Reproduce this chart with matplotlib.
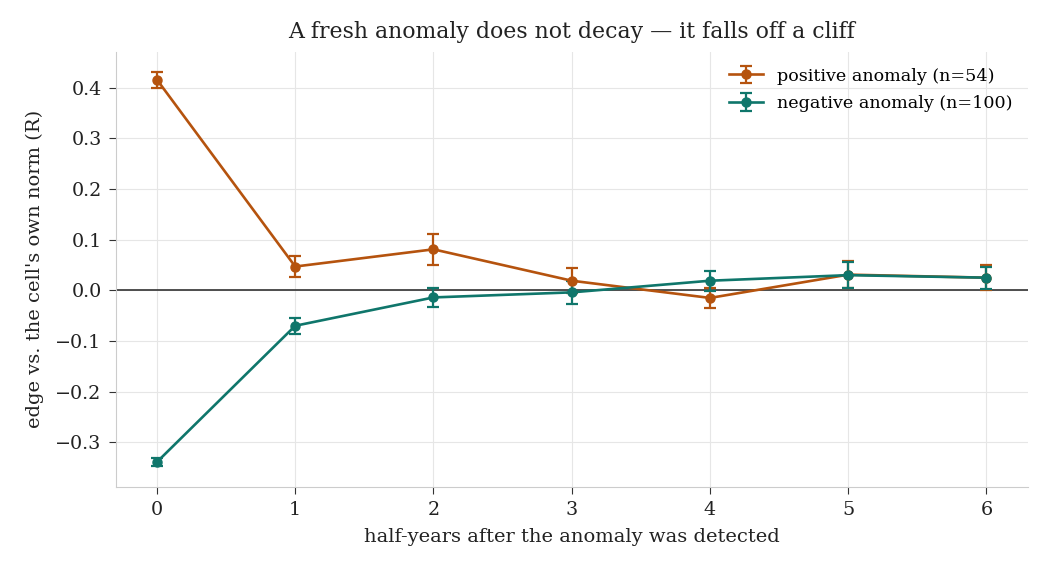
import numpy as np
import matplotlib
matplotlib.use("Agg")
import matplotlib.pyplot as plt

# half-years after detection
steps = [0, 1, 2, 3, 4, 5, 6]

pos_mean = [0.416, 0.047, 0.081, 0.019, -0.015, 0.031, 0.025]
pos_err = [0.016, 0.021, 0.030, 0.025, 0.020, 0.027, 0.025]

neg_mean = [-0.339, -0.070, -0.014, -0.004, 0.019, 0.030, 0.025]
neg_err = [0.007, 0.016, 0.019, 0.022, 0.020, 0.025, 0.022]

pos_label = "positive anomaly (n=54)"
neg_label = "negative anomaly (n=100)"

c_pos = "#b5530e"
c_neg = "#0f766b"

plt.rcParams["font.family"] = ["DejaVu Serif"]

fig, ax = plt.subplots(figsize=(10.5, 5.7), dpi=100)

ax.errorbar(steps, pos_mean, yerr=pos_err, color=c_pos, marker="o", ms=6.5,
            lw=1.9, capsize=4.5, capthick=1.6, elinewidth=1.6, label=pos_label, zorder=3)
ax.errorbar(steps, neg_mean, yerr=neg_err, color=c_neg, marker="o", ms=6.5,
            lw=1.9, capsize=4.5, capthick=1.6, elinewidth=1.6, label=neg_label, zorder=3)
ax.axhline(0, color="#333333", lw=1.2, zorder=2)

ax.set_xlim(-0.3, 6.3)
ax.set_ylim(-0.388, 0.471)
ax.set_xticks(steps)
ax.set_yticks([-0.3, -0.2, -0.1, 0.0, 0.1, 0.2, 0.3, 0.4])
ax.grid(True, color="#e6e6e6", lw=0.8)
ax.set_axisbelow(True)
for s in ["top", "right"]:
    ax.spines[s].set_visible(False)
for s in ["left", "bottom"]:
    ax.spines[s].set_color("#cccccc")
ax.tick_params(labelsize=13.8, color="#333333", length=5, pad=5, labelcolor="#222222")

ax.set_title("A fresh anomaly does not decay \u2014 it falls off a cliff",
             fontsize=15.8, color="#222222", pad=10)
ax.set_xlabel("half-years after the anomaly was detected", fontsize=14, color="#222222", labelpad=7)
ax.set_ylabel("edge vs. the cell's own norm (R)", fontsize=14, color="#222222", labelpad=8)
ax.legend(loc="upper right", frameon=False, fontsize=12.6, handlelength=1.9,
          handletextpad=0.8, labelspacing=0.6, borderaxespad=0.5)

fig.subplots_adjust(left=0.11, right=0.979, top=0.909, bottom=0.146)
fig.savefig("out.png", dpi=100)
